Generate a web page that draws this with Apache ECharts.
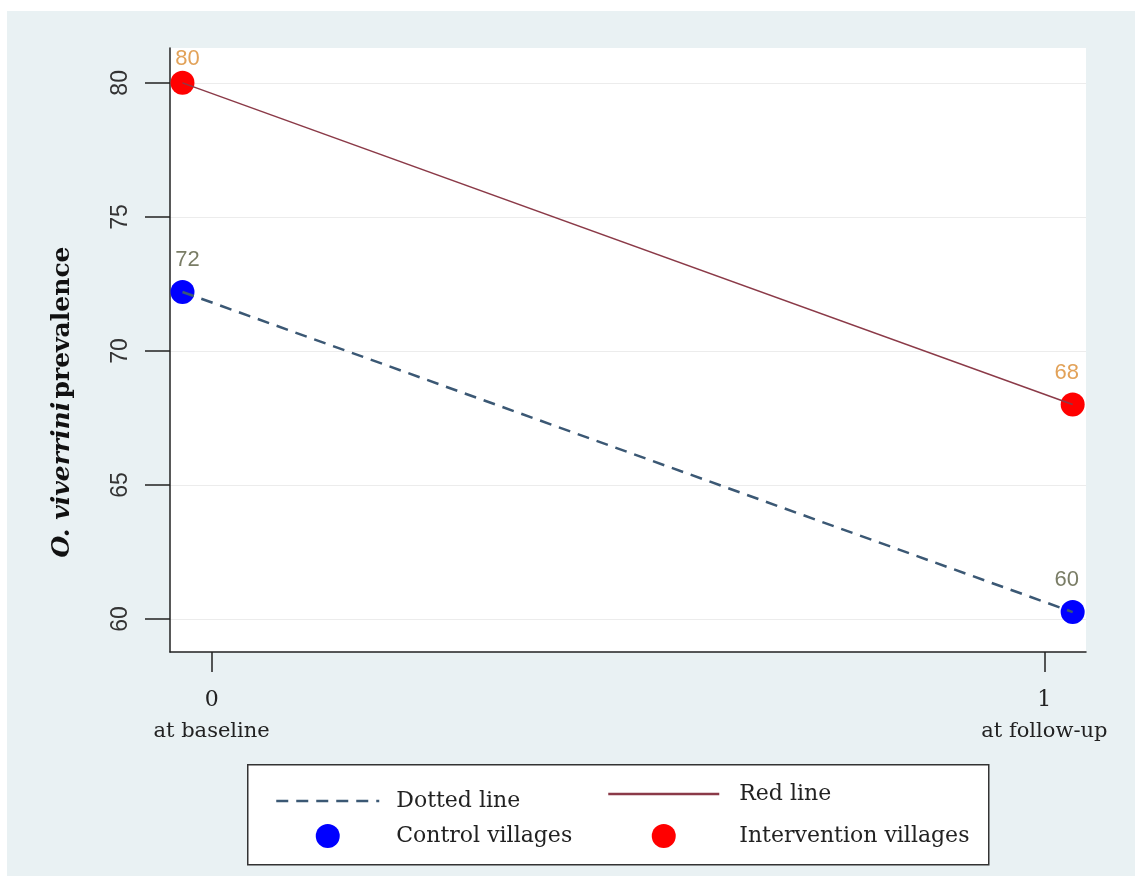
<!DOCTYPE html>
<html>
<head>
<meta charset="utf-8">
<script src="https://cdn.jsdelivr.net/npm/echarts@6/dist/echarts.min.js"></script>
<style>
html,body{margin:0;padding:0;background:#ffffff;}
#wrap{position:relative;width:1135px;height:876px;}
#bg{position:absolute;left:7px;top:11px;right:0;bottom:0;background:#e9f1f3;}
#chart{position:absolute;left:0;top:0;width:1135px;height:876px;}
</style>
</head>
<body>
<div id="wrap"><div id="bg"></div><div id="chart"></div></div>
<script>
// ---- data ----
const timePositions = [-0.035, 1.034];          // plotted x positions of the two survey rounds
const tickValues = [0, 1];
const tickLabels = ['at baseline', 'at follow-up'];
const yTicks = [60, 65, 70, 75, 80];
const controlValues = [72.2, 60.26];             // Control villages
const interventionValues = [80.0, 68.0];         // Intervention villages
const seriesNames = ['Dotted line', 'Red line', 'Control villages', 'Intervention villages'];

const pairs = (vals) => timePositions.map((x, i) => [x, vals[i]]);

const serif = 'DejaVu Serif, serif';
const sans = 'Liberation Sans, Arial, sans-serif';
const plotTop = 48;
const plotMid = (170 + 1086) / 2;

// keep value labels inside the plot area and nudge them slightly toward the middle
const placeLabel = (params) => {
  const r = params.labelRect;
  const out = {dx: (r.x + r.width / 2) < plotMid ? 5 : -6};
  if (r.y < plotTop) out.dy = plotTop - r.y;
  return out;
};

const chart = echarts.init(document.getElementById('chart'), null, {renderer: 'canvas'});
chart.setOption({
  animation: false,
  backgroundColor: 'transparent',
  grid: {left: 170, right: 49, top: plotTop, bottom: 224, show: true, backgroundColor: '#ffffff', borderWidth: 0},
  xAxis: {
    type: 'value', min: -0.05, max: 1.05,
    axisLine: {show: true, onZero: false, lineStyle: {color: '#222', width: 1.5}},
    axisTick: {show: true, length: 20, customValues: tickValues, lineStyle: {color: '#222', width: 1.5}},
    axisLabel: {
      customValues: tickValues, margin: 32,
      formatter: (v) => '{n|' + v + '}\n{t|' + tickLabels[tickValues.indexOf(v)] + '}',
      rich: {
        n: {fontFamily: serif, fontSize: 22, color: '#222', lineHeight: 32, align: 'center'},
        t: {fontFamily: serif, fontSize: 21, color: '#222', lineHeight: 32, align: 'center'}
      }
    },
    splitLine: {show: false}
  },
  yAxis: {
    type: 'value', min: 58.77, max: 81.3,
    name: '{i|O. viverrini} {b|prevalence}',
    nameLocation: 'middle', nameRotate: 90, nameGap: 95,
    nameTextStyle: {
      padding: [0, 104, 0, 0],
      rich: {
        i: {fontFamily: serif, fontSize: 25, fontWeight: 'bold', fontStyle: 'italic', color: '#111'},
        b: {fontFamily: serif, fontSize: 25, fontWeight: 'bold', color: '#111'}
      }
    },
    axisLine: {show: true, onZero: false, lineStyle: {color: '#222', width: 1.5}},
    axisTick: {show: true, length: 25, customValues: yTicks, lineStyle: {color: '#222', width: 1.5}},
    axisLabel: {customValues: yTicks, rotate: 90, margin: 38, fontFamily: sans, fontSize: 23, color: '#333'},
    splitLine: {show: true, lineStyle: {color: '#ececec', width: 1}}
  },
  graphic: [{
    type: 'rect', left: 247, top: 764, z: 0,
    shape: {width: 741, height: 100},
    style: {fill: '#ffffff', stroke: '#333', lineWidth: 1.5}
  }],
  legend: [{
    data: [{name: seriesNames[0], itemStyle: {color: 'rgba(0,0,0,0)', opacity: 0}}, seriesNames[2]],
    orient: 'vertical', left: 275, top: 790, padding: 0,
    itemWidth: 103, itemHeight: 24, itemGap: 12,
    textStyle: {fontFamily: serif, fontSize: 22, color: '#222', padding: [0, 0, 0, 12]},
    lineStyle: {width: 2.5}
  }, {
    data: [{name: seriesNames[1], itemStyle: {color: 'rgba(0,0,0,0)', opacity: 0}}, seriesNames[3]],
    orient: 'vertical', left: 607, top: 783, padding: 0,
    itemWidth: 111, itemHeight: 24, itemGap: 19,
    textStyle: {fontFamily: serif, fontSize: 22, color: '#222', padding: [0, 0, 0, 15]},
    lineStyle: {width: 2.5}
  }],
  series: [{
    name: seriesNames[0], type: 'line', data: pairs(controlValues),
    symbol: 'none', itemStyle: {color: '#3b5874'},
    lineStyle: {color: '#3b5874', width: 2.5, type: [12, 8]}
  }, {
    name: seriesNames[1], type: 'line', data: pairs(interventionValues),
    symbol: 'none', itemStyle: {color: '#8b3a48'},
    lineStyle: {color: '#8b3a48', width: 1.5}
  }, {
    name: seriesNames[2], type: 'scatter', data: pairs(controlValues),
    symbolSize: 24, itemStyle: {color: '#0000ff', opacity: 1},
    label: {show: true, position: 'top', distance: 9, fontFamily: sans, fontSize: 22, color: '#7a7d66',
      formatter: (p) => Math.round(p.value[1])},
    labelLayout: placeLabel
  }, {
    name: seriesNames[3], type: 'scatter', data: pairs(interventionValues),
    symbolSize: 24, itemStyle: {color: '#ff0000', opacity: 1},
    label: {show: true, position: 'top', distance: 9, fontFamily: sans, fontSize: 22, color: '#e2a259',
      formatter: (p) => Math.round(p.value[1])},
    labelLayout: placeLabel
  }]
});
</script>
</body>
</html>
